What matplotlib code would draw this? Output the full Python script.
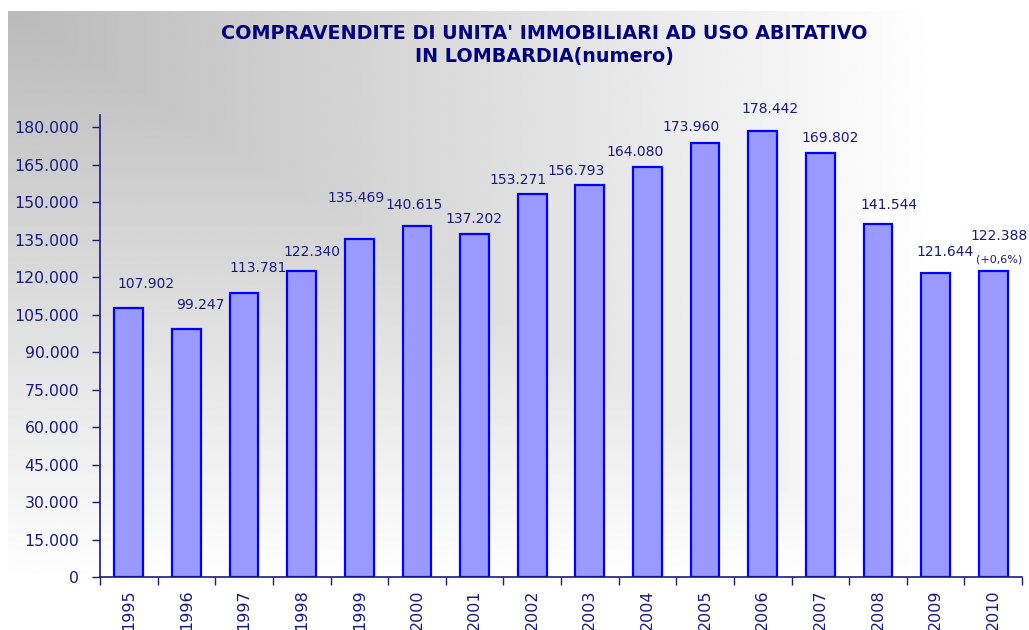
import numpy as np
import matplotlib.pyplot as plt
from matplotlib.ticker import FuncFormatter, FixedLocator

anni = ['1995', '1996', '1997', '1998', '1999', '2000', '2001', '2002',
        '2003', '2004', '2005', '2006', '2007', '2008', '2009', '2010']
compravendite = [107902, 99247, 113781, 122340, 135469, 140615, 137202, 153271,
                 156793, 164080, 173960, 178442, 169802, 141544, 121644, 122388]
nota_ultimo = '(+0,6%)'

# spostamento delle etichette (pixel) rispetto al centro/cima della barra
etich_dx = [17, 14, 14, 10, -3, -3, -1, -14, -14, -12, -14, 7, 10, 11, 10, 6]
etich_dy = [24, 24, 25, 19, 41, 21, 15, 14, 14, 15, 16, 22, 15, 19, 21, 35]

navy = '#1a1a80'
W, H = 1029, 630


def fmt_it(v):
    return f'{int(round(v)):,}'.replace(',', '.')


fig = plt.figure(figsize=(W / 100, H / 100), dpi=100)

# sfondo sfumato grigio -> bianco (dall'angolo in alto a sinistra)
bg = fig.add_axes([8 / W, 1 - 583 / H, (W - 8) / W, (583 - 11) / H], zorder=-5)
u, v = np.meshgrid(np.linspace(0, 1, 400), np.linspace(0, 1, 300))
d = np.clip(np.maximum(1.1 * u, v), 0, 1)
c = 0.73 + 0.27 * d
bg.imshow(c, cmap='gray', vmin=0, vmax=1, aspect='auto', interpolation='bilinear')
bg.axis('off')

ax = fig.add_axes([100 / W, 1 - 577 / H, 922 / W, (577 - 115) / H])
ax.patch.set_alpha(0)

x = np.arange(len(anni))
ax.bar(x, compravendite, width=0.5, color='#9999ff', edgecolor='#0000ff', linewidth=1.6)

ax.set_xlim(-0.5, len(anni) - 0.5)
ax.set_ylim(0, 185000)
ax.set_yticks(np.arange(0, 180001, 15000))
ax.yaxis.set_major_formatter(FuncFormatter(lambda v, p: fmt_it(v)))

ax.set_xticks(x)
ax.set_xticklabels(anni, rotation=90)
ax.xaxis.set_minor_locator(FixedLocator(np.arange(-0.5, len(anni), 1)))
ax.tick_params(axis='x', which='major', length=0, pad=9, labelsize=11.5, labelcolor=navy)
ax.tick_params(axis='x', which='minor', length=6, color=navy, width=1)
ax.tick_params(axis='y', length=6, color=navy, width=1, labelsize=11.3, labelcolor=navy, pad=9)

for s in ['top', 'right']:
    ax.spines[s].set_visible(False)
for s in ['left', 'bottom']:
    ax.spines[s].set_color(navy)
    ax.spines[s].set_linewidth(1.2)

pt = 0.72  # pixel -> punti a 100 dpi
for i, val in enumerate(compravendite):
    ax.annotate(fmt_it(val), (i, val), xytext=(etich_dx[i] * pt, etich_dy[i] * pt),
                textcoords='offset points', ha='center', va='center',
                fontsize=10, color=navy)
    if i == len(compravendite) - 1:
        ax.annotate(nota_ultimo, (i, val), xytext=(etich_dx[i] * pt, 12 * pt),
                    textcoords='offset points', ha='center', va='center',
                    fontsize=8, color=navy)

fig.text(544 / W, 1 - 45 / H, "COMPRAVENDITE DI UNITA' IMMOBILIARI AD USO ABITATIVO\nIN LOMBARDIA(numero)",
         ha='center', va='center', fontsize=13.8, fontweight='bold', color='#000080',
         linespacing=1.25)

fig.savefig('out.png', dpi=100)
